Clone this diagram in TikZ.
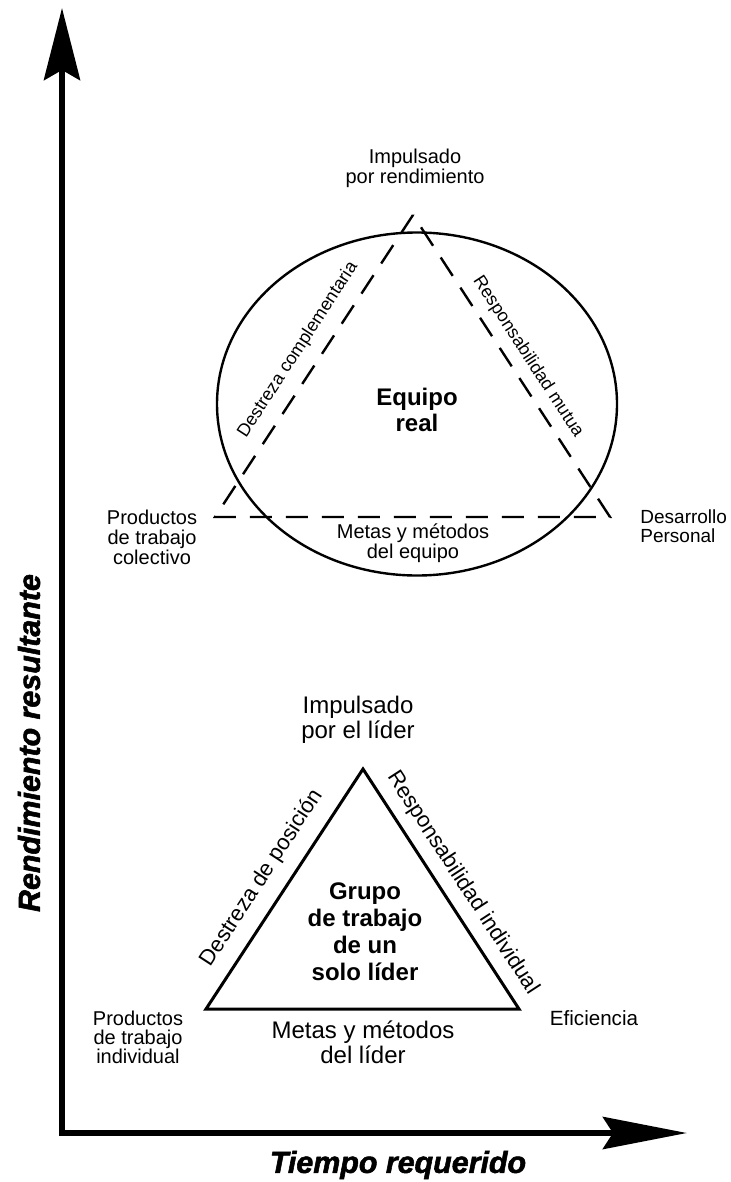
\documentclass[tikz,border=0pt]{standalone}
\usepackage{fontspec}
\setmainfont{Liberation Sans}
\newfontfamily\heavyfont{Liberation Sans}[BoldItalicFeatures={FakeBold=1.8}]
\usetikzlibrary{arrows.meta,shapes.geometric}
\tikzset{
  axisline/.style={line width=3.2pt, line join=miter},
  tri/.style={line width=1.5pt, line join=miter},
  dtri/.style={line width=1.2pt, dash pattern=on 11pt off 7pt, line join=miter},
  ring/.style={draw, ellipse, line width=1.2pt, inner sep=0},
  lbl/.style={inner sep=0, align=center},
  axlbl/.style={inner sep=0, font=\heavyfont\bfseries\itshape\fontsize{15.2}{16}\selectfont}
}
\begin{document}
\begin{tikzpicture}[x=0.5pt,y=-0.5pt]
\useasboundingbox (0,0) rectangle (730,1182);
% axes
\coordinate (ytip) at (62,8);
\coordinate (orig) at (62,1133);
\coordinate (xtip) at (687,1133);
\draw[axisline, {Stealth[length=36pt,width=18pt,inset=5pt]}-{Stealth[length=42pt,width=16pt,inset=5pt]}] (ytip) -- (orig) -- (xtip);
\node[axlbl, rotate=90] (ylab) at (29,743) {Rendimiento resultante};
\node[axlbl] (xlab) at (398,1165) {Tiempo requerido};
% upper: real team
\node[ring, minimum width=200pt, minimum height=171.5pt] (ell) at (417,404) {};
\coordinate (uA) at (413,215);
\coordinate (uL) at (215,517);
\coordinate (uR) at (610,517);
\draw[dtri] (uA) -- (uL) -- (uR) -- cycle;
\node[lbl, font=\fontsize{10}{10}\selectfont] (uimp) at (415,168) {Impulsado\\por rendimiento};
\node[lbl, font=\bfseries\fontsize{12}{13}\selectfont] (ueq) at (417,410) {Equipo\\real};
\node[lbl, font=\fontsize{10}{10}\selectfont] (umet) at (413,543) {Metas y métodos\\del equipo};
\node[lbl, font=\fontsize{10}{10}\selectfont] (uprod) at (152,537) {Productos\\de trabajo\\colectivo};
\node[lbl, anchor=west, align=left, font=\fontsize{9.5}{9.5}\selectfont] (udes) at (640,526) {Desarrollo\\Personal};
\node[lbl, rotate=57, font=\fontsize{9}{9}\selectfont] (udc) at (298,350) {Destreza complementaria};
\node[lbl, rotate=-57, font=\fontsize{9}{9}\selectfont] (urm) at (528,357) {Responsabilidad mutua};
% lower: working group
\coordinate (lA) at (363,769);
\coordinate (lL) at (206,1009);
\coordinate (lR) at (519,1009);
\draw[tri] (lA) -- (lL) -- (lR) -- cycle;
\node[lbl, font=\fontsize{12}{12.5}\selectfont] (limp) at (358,720) {Impulsado\\por el líder};
\node[lbl, font=\bfseries\fontsize{12}{13.5}\selectfont] (lgr) at (365,932) {Grupo\\de trabajo\\de un\\solo líder};
\node[lbl, font=\fontsize{12}{12.5}\selectfont] (lmet) at (363,1042) {Metas y métodos\\del líder};
\node[lbl, font=\fontsize{10}{9.5}\selectfont] (lprod) at (138,1037) {Productos\\de trabajo\\individual};
\node[lbl, font=\fontsize{10.3}{10.3}\selectfont] (lef) at (594,1018) {Eficiencia};
\node[lbl, rotate=57, font=\fontsize{11}{11}\selectfont] (ldp) at (262,878) {Destreza de posición};
\node[lbl, rotate=-57, font=\fontsize{11}{11}\selectfont] (lri) at (463,883) {Responsabilidad individual};
\end{tikzpicture}
\end{document}
